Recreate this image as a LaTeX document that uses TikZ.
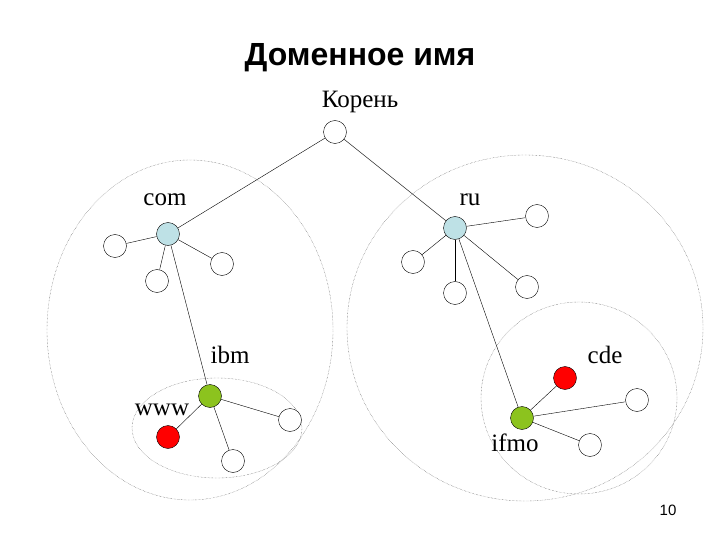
\documentclass[tikz,border=0pt]{standalone}
\usepackage{fontspec}
\setmainfont{Liberation Serif}
\newfontfamily\titlefont{Liberation Sans}
\definecolor{lblue}{RGB}{190,225,230}
\definecolor{lgreen}{RGB}{140,195,30}
\begin{document}
\begin{tikzpicture}[x=1pt,y=-1pt,
  nd/.style={circle,draw,thin,minimum size=23pt,inner sep=0pt,fill=white},
  blue/.style={nd,fill=lblue},
  grn/.style={nd,fill=lgreen},
  redn/.style={nd,fill=red},
  lbl/.style={font=\fontsize{25}{27}\selectfont},
  ell/.style={draw,black!70,densely dotted,thin}]
\useasboundingbox (0,0) rectangle (720,540);
\node[font=\titlefont\bfseries\fontsize{32}{34}\selectfont] (title) at (360,58) {Доменное имя};
\node[lbl] (lroot) at (360,102) {Корень};
\draw[ell] (190,330) ellipse [x radius=143,y radius=170];
\draw[ell] (525,328) ellipse [x radius=178,y radius=173];
\draw[ell] (217,428) ellipse [x radius=85,y radius=50];
\draw[ell] (579,398) ellipse [x radius=98,y radius=96];
\node[nd] (root) at (335,132) {};
\node[blue] (com) at (168,234) {};
\node[blue] (ru) at (455,228) {};
\node[grn] (ibm) at (210,396) {};
\node[grn] (ifmo) at (522,418) {};
\node[redn] (www) at (168,437) {};
\node[redn] (cde) at (565,378) {};
\node[nd] (c1) at (115,246) {};
\node[nd] (c2) at (157,281) {};
\node[nd] (c3) at (222,264) {};
\node[nd] (r1) at (537,216) {};
\node[nd] (r2) at (413,262) {};
\node[nd] (r3) at (455,293) {};
\node[nd] (r4) at (527,287) {};
\node[nd] (i1) at (290,420) {};
\node[nd] (i2) at (233,461) {};
\node[nd] (f1) at (637,400) {};
\node[nd] (f2) at (590,445) {};
\foreach \a/\b in {root/com,root/ru,com/c1,com/c2,com/c3,com/ibm,ru/r1,ru/r2,ru/r3,ru/r4,ru/ifmo,ibm/www,ibm/i1,ibm/i2,ifmo/cde,ifmo/f1,ifmo/f2}
  \draw (\a) -- (\b);
\node[lbl] (lcom) at (165,200) {com};
\node[lbl] (lru) at (470,200) {ru};
\node[lbl] (libm) at (230,355) {ibm};
\node[lbl] (lwww) at (162,410) {www};
\node[lbl] (lcde) at (605,355) {cde};
\node[lbl] (lifmo) at (515,443) {ifmo};
\node[font=\titlefont\fontsize{15}{17}\selectfont] (pg) at (668,510) {10};
\end{tikzpicture}
\end{document}
